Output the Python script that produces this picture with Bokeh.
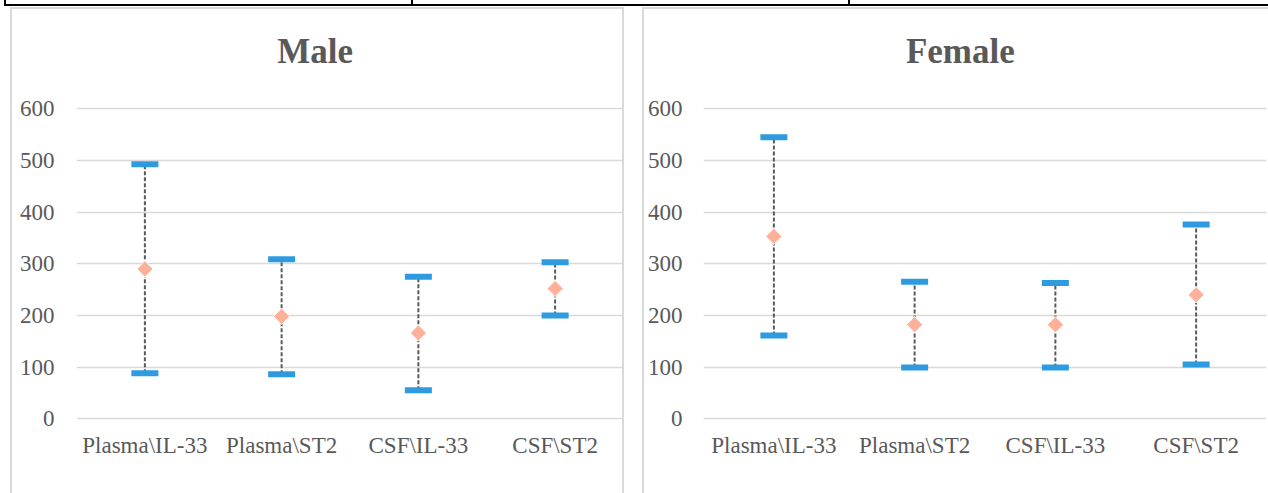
import numpy as np
from bokeh.plotting import figure
from bokeh.models import FactorRange, Range1d, FixedTicker, ColumnDataSource, Spacer, Div
from bokeh.layouts import row, column
from bokeh.core.properties import value
from bokeh.embed import file_html
from bokeh.resources import INLINE

categories = ["Plasma\\IL-33", "Plasma\\ST2", "CSF\\IL-33", "CSF\\ST2"]
male_high = [493, 309, 275, 303]
male_low = [88, 86, 55, 200]
male_mean = [290, 198, 166, 252]
female_high = [545, 265, 263, 376]
female_low = [161, 99, 99, 105]
female_mean = [353, 182, 182, 240]
y_ticks = [0, 100, 200, 300, 400, 500, 600]

FONT = "Liberation Serif"
TXT = "#595959"
GRID = "#d9d9d9"
CAP = "#2E9BE0"
MEAN = "#FFB09A"

# y extent of the frame (headroom above 600 holds the chart title)
Y_MIN, Y_MAX = -5.5, 792.5
TITLE_Y = 712


def make_chart(title, title_x, high, low, mean, width, mb_left, mb_right, ylab_standoff, styles):
    src = ColumnDataSource(dict(cat=categories, high=high, low=low, mean=mean))
    p = figure(x_range=FactorRange(*categories, range_padding=0),
               y_range=Range1d(Y_MIN, Y_MAX),
               width=width, height=484, output_backend="svg", toolbar_location=None,
               min_border_left=mb_left, min_border_right=mb_right,
               min_border_top=0, min_border_bottom=74)
    p.styles = styles
    p.outline_line_color = None
    p.background_fill_color = "white"
    p.border_fill_color = "white"
    p.xgrid.grid_line_color = None
    p.ygrid.grid_line_color = GRID
    p.ygrid.grid_line_width = 1.5
    p.yaxis.ticker = FixedTicker(ticks=y_ticks)
    for ax in (p.xaxis, p.yaxis):
        ax.axis_line_color = None
        ax.major_tick_line_color = None
        ax.minor_tick_line_color = None
        ax.major_tick_out = 0
        ax.major_tick_in = 0
        ax.minor_tick_out = 0
        ax.major_label_text_font = FONT
        ax.major_label_text_font_size = "23px"
        ax.major_label_text_color = TXT
    p.yaxis.major_label_standoff = ylab_standoff
    p.xaxis.major_label_standoff = 11
    p.segment(x0="cat", y0="low", x1="cat", y1="high", source=src,
              line_color="#595959", line_width=2, line_dash="4 2")
    p.rect(x="cat", y="high", width=27, height=6, width_units="screen", height_units="screen",
           source=src, fill_color=CAP, line_color=None)
    p.rect(x="cat", y="low", width=27, height=6, width_units="screen", height_units="screen",
           source=src, fill_color=CAP, line_color=None)
    p.scatter(x="cat", y="mean", source=src, marker="square", angle=np.pi / 4, size=11.5,
              fill_color=MEAN, line_color="white", line_width=1)
    p.text(x=[title_x], y=[TITLE_Y], text=[title], text_font=value(FONT),
           text_font_size=value("35px"), text_font_style="bold", text_color=TXT,
           text_align="center", text_baseline="alphabetic")
    return p


border = "2px solid " + GRID
left = make_chart("Male", 1.745, male_high, male_low, male_mean, 610, 64, 3, 22,
                  {"border-left": border, "border-top": border, "border-right": border,
                   "box-sizing": "content-box"})
right = make_chart("Female", 1.825, female_high, female_low, female_mean, 624, 58, 4, 21,
                   {"border-left": border, "border-top": border, "box-sizing": "content-box"})

cell = {"border-left": "2px solid #000", "border-bottom": "2px solid #000",
        "box-sizing": "border-box", "margin": "0", "padding": "0"}
strip = row(Spacer(width=4),
            Div(text="", width=407, height=6, styles=cell),
            Div(text="", width=437, height=6, styles=cell),
            Div(text="", width=420, height=6, styles=cell))

layout = column(strip, Spacer(height=1),
                row(Spacer(width=10), left, Spacer(width=18), right))

open("out.html", "w").write(file_html(layout, INLINE))
